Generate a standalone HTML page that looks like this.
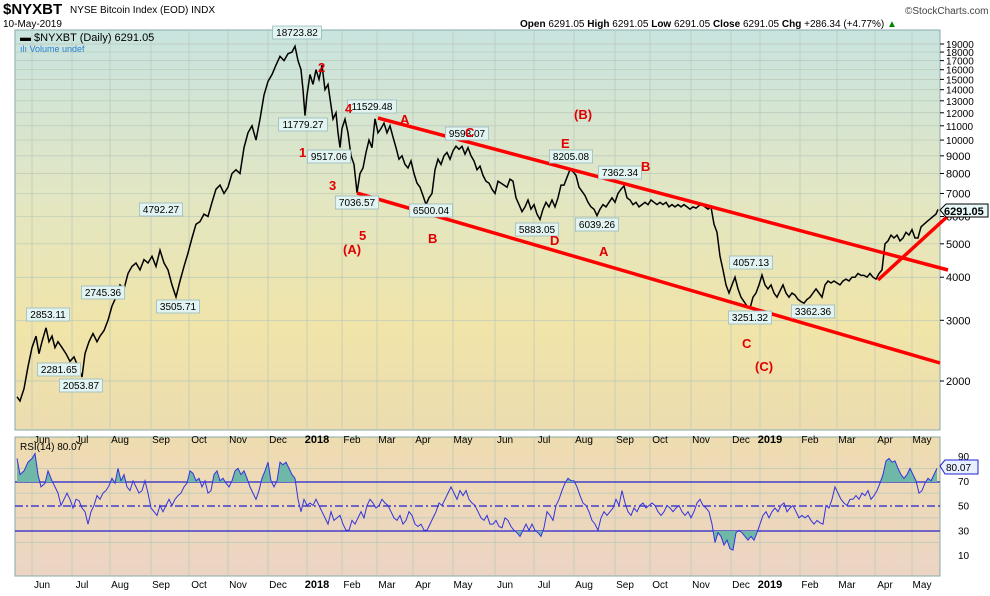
<!DOCTYPE html>
<html><head><meta charset="utf-8"><style>
body{margin:0;background:#fff;font-family:"Liberation Sans",sans-serif}
svg text{font-family:"Liberation Sans",sans-serif}
</style></head><body>
<svg id="s" width="990" height="591" xmlns="http://www.w3.org/2000/svg">
<defs>
<linearGradient id="g1" x1="0" y1="0" x2="0" y2="1">
<stop offset="0" stop-color="#c8e4e0"/><stop offset="0.45" stop-color="#e4e6c0"/><stop offset="0.75" stop-color="#f0e4a8"/><stop offset="1" stop-color="#ecdcb0"/></linearGradient>
<linearGradient id="g2" x1="0" y1="0" x2="0" y2="1">
<stop offset="0" stop-color="#eedcb0"/><stop offset="1" stop-color="#ecd4c4"/></linearGradient>
<clipPath id="ca"><rect x="15" y="430" width="925" height="52"/></clipPath>
<clipPath id="cb"><rect x="15" y="531" width="925" height="50"/></clipPath>
</defs>
<text x="3" y="14" font-size="15" font-weight="bold">$NYXBT</text>
<text x="70" y="13" font-size="10">NYSE Bitcoin Index (EOD)  INDX</text>
<text x="905" y="14" font-size="10" fill="#444">©StockCharts.com</text>
<text x="3" y="27" font-size="10">10-May-2019</text>
<text x="520" y="27" font-size="10"><tspan font-weight="bold">Open</tspan> 6291.05 <tspan font-weight="bold">High</tspan> 6291.05 <tspan font-weight="bold">Low</tspan> 6291.05 <tspan font-weight="bold">Close</tspan> 6291.05 <tspan font-weight="bold">Chg</tspan> +286.34 (+4.77%) <tspan fill="#080">▲</tspan></text>
<rect x="15" y="30" width="925" height="400" fill="url(#g1)" stroke="#8aa" stroke-width="1"/>
<rect x="15" y="437" width="925" height="139" fill="url(#g2)" stroke="#8aa" stroke-width="1"/>
<g id="grid" stroke="#b8c8b8" stroke-width="0.7"></g>
<g id="ax" font-size="10" fill="#000"></g>
<text x="20" y="41" font-size="11" font-family="Liberation Mono">▬ $NYXBT (Daily) 6291.05</text>
<text x="20" y="52" font-size="9" fill="#2a7fd4">ılı Volume undef</text>
<text x="20" y="450" font-size="10">RSI(14) 80.07</text>
<line x1="15" y1="482" x2="940" y2="482" stroke="#2222cc" stroke-width="1.2"/>
<line x1="15" y1="531" x2="940" y2="531" stroke="#2222cc" stroke-width="1.2"/>
<line x1="15" y1="506" x2="940" y2="506" stroke="#2222cc" stroke-width="1.2" stroke-dasharray="8,3,2,3"/>
<g id="rsi"></g>
<path id="price" fill="none" stroke="#000" stroke-width="1.5"/>
<g stroke="#f00" stroke-width="3.5">
<line x1="378" y1="118" x2="948" y2="270"/>
<line x1="357" y1="193" x2="940" y2="363"/>
<line x1="878" y1="280" x2="949" y2="215"/>
</g>
<g id="lbl" font-size="10"></g>
<g fill="#e00000" font-size="13" font-weight="bold">
<text x="318" y="72">2</text><text x="299" y="157">1</text><text x="329" y="190">3</text><text x="345" y="113">4</text><text x="359" y="240">5</text><text x="343" y="254">(A)</text>
<text x="400" y="124">A</text><text x="428" y="243">B</text><text x="465" y="137">C</text><text x="550" y="245">D</text><text x="561" y="148">E</text><text x="574" y="119">(B)</text><text x="641" y="171">B</text><text x="599" y="256">A</text><text x="742" y="348">C</text><text x="755" y="371">(C)</text>
</g>
<g>
<path d="M940 210 l6 -6 h42 v13 h-42 z" fill="#e8f8f8" stroke="#000"/>
<text x="944" y="215" font-size="11" font-weight="bold">6291.05</text>
<path d="M940 466 l5 -6 h33 v14 h-33 z" fill="#e8f0ff" stroke="#22c"/>
<text x="946" y="471" font-size="10">80.07</text>
</g>
</svg>
<script>
const NS="http://www.w3.org/2000/svg";
function el(t,a,p,txt){const e=document.createElementNS(NS,t);for(const k in a)e.setAttribute(k,a[k]);if(txt!==undefined)e.textContent=txt;document.getElementById(p).appendChild(e);return e;}
const py=v=>381-149.7*Math.log(v/2000);
const ry=v=>456+(90-v)*1.2375;
const months=[["Jun",42],["Jul",82],["Aug",120],["Sep",161],["Oct",199],["Nov",238],["Dec",278],["2018",317],["Feb",352],["Mar",387],["Apr",423],["May",463],["Jun",505],["Jul",544],["Aug",584],["Sep",625],["Oct",660],["Nov",701],["Dec",741],["2019",770],["Feb",810],["Mar",847],["Apr",885],["May",922]];
months.forEach(([m,x])=>{const gx=x-10;
el("line",{x1:gx,y1:30,x2:gx,y2:430},"grid");el("line",{x1:gx,y1:437,x2:gx,y2:576},"grid");
const b=(m=="2018"||m=="2019")?{"font-weight":"bold","font-size":"11"}:{};
el("text",Object.assign({x:x,y:443,"text-anchor":"middle"},b),"ax",m);
el("text",Object.assign({x:x,y:588,"text-anchor":"middle"},b),"ax",m);});
[2000,3000,4000,5000,6000,7000,8000,9000,10000,11000,12000,13000,14000,15000,16000,17000,18000,19000].forEach(v=>{const y=py(v);
el("line",{x1:15,y1:y,x2:940,y2:y},"grid");el("line",{x1:940,y1:y,x2:944,y2:y,stroke:"#000"},"ax");
el("text",{x:946,y:y+4,"font-size":v>=10000?"10":"11"},"ax",v);});
[10,30,50,70,90].forEach(v=>{el("text",{x:958,y:ry(v)+4},"ax",v);});
[20,40,60,80].forEach(v=>{el("line",{x1:15,y1:ry(v),x2:940,y2:ry(v)},"grid");});
const P=[17,1800,20,1750,24,1900,28,2200,32,2500,36,2700,39,2400,42,2600,46,2853,49,2600,52,2700,55,2500,58,2600,62,2500,66,2400,70,2281,74,2350,78,2200,82,2054,85,2400,89,2600,93,2745,97,2600,100,2700,104,2800,108,3000,112,3300,116,3500,120,3800,124,3700,128,4100,132,4300,136,4400,140,4200,144,4500,148,4400,152,4600,156,4300,160,4792,164,4400,168,4200,172,3800,176,3505,180,3900,184,4300,188,4700,192,5200,196,5700,200,5800,204,6100,208,6000,212,6600,216,7200,220,7400,224,7000,228,7300,232,8000,236,8200,240,8000,244,9500,248,10500,252,11000,256,10000,260,11500,264,13500,268,14800,272,15500,276,16500,280,17500,284,17000,288,17800,292,18000,295,18723,298,17000,301,16000,303,14000,305,11779,307,13500,310,15500,313,14500,316,16000,319,15000,322,16500,325,14000,328,14500,330,13200,333,11500,336,12000,338,10500,340,9517,342,10800,345,11500,348,10500,351,9000,354,8500,357,7036,360,8000,363,8300,366,9200,369,10000,372,9500,375,11529,378,10500,381,10800,384,11200,387,10500,390,11000,393,10200,396,9500,399,8800,402,9000,405,8500,408,8300,411,8700,414,8000,417,7500,420,7300,423,6900,426,6500,429,6800,432,7000,435,8200,438,8800,441,8500,444,9000,447,9200,450,8800,453,9300,456,9600,459,9400,462,9593,465,9100,468,9500,471,9000,474,8700,477,8200,480,8400,483,7900,486,7600,489,7500,492,7200,495,7000,498,7600,501,7500,504,7400,507,7300,510,7700,513,7600,516,6800,519,6500,522,6200,525,6400,528,6700,531,6300,534,6500,537,6100,540,5883,543,6300,546,6600,549,6400,552,6700,555,6400,558,6800,561,7400,564,7400,567,7800,570,8205,573,8100,576,7900,579,7300,582,7100,585,6900,588,6600,591,6400,594,6300,597,6039,600,6300,603,6500,606,6400,609,6600,612,6800,615,6600,618,7000,621,7200,624,7362,627,6800,630,6700,633,6500,636,6600,639,6400,642,6500,645,6600,648,6500,651,6700,654,6600,657,6500,660,6600,663,6500,666,6600,669,6400,672,6500,675,6400,678,6500,681,6400,684,6500,687,6400,690,6300,693,6400,696,6350,699,6450,702,6500,705,6400,708,6300,711,6400,714,5700,717,5400,720,4600,723,4200,726,3800,729,3600,732,3800,735,4000,738,3700,741,3500,744,3400,747,3300,750,3251,753,3500,756,3600,759,3800,762,4057,765,3800,768,3700,771,3800,774,3600,777,3500,780,3650,783,3800,786,3600,789,3500,792,3600,795,3550,798,3450,801,3400,804,3362,807,3450,810,3500,813,3600,816,3700,819,3600,822,3500,825,3800,828,3900,831,3850,834,3900,837,3850,840,3800,843,3900,846,3950,849,3900,852,4000,855,4000,858,4100,861,4050,864,4050,867,4000,870,4100,873,4000,876,3950,879,4100,882,4200,885,5000,888,5100,891,5300,894,5200,897,5300,900,5100,903,5200,906,5400,909,5300,912,5500,915,5200,918,5200,921,5600,924,5700,927,5800,930,5900,933,6000,936,6100,938,6291];
let d="";for(let i=0;i<P.length;i+=2)d+=(i?"L":"M")+P[i]+" "+py(P[i+1]).toFixed(1);
document.getElementById("price").setAttribute("d",d);
const R=[17,88,20,75,24,78,28,85,32,88,35,92,38,75,41,65,45,68,48,78,52,70,55,65,58,60,61,50,64,55,67,60,70,55,73,48,76,55,79,54,82,48,85,45,88,35,91,45,94,50,97,58,100,55,103,60,106,62,109,66,112,72,115,68,118,80,121,70,124,75,127,65,130,62,133,70,136,65,139,60,142,62,145,70,148,60,151,48,154,45,157,42,160,50,163,45,166,50,169,55,172,50,175,55,178,58,181,60,184,65,187,68,190,78,193,76,196,70,199,72,202,65,205,70,208,60,211,62,214,75,217,78,220,70,223,72,226,68,229,65,232,70,235,78,238,80,241,75,244,78,247,72,250,65,253,60,256,55,259,62,262,72,265,78,268,85,271,70,274,65,277,70,280,85,283,83,286,85,289,80,292,75,295,72,298,55,301,45,304,55,307,50,310,52,313,50,316,55,319,50,322,45,325,40,328,35,331,45,334,38,337,40,340,42,343,35,346,30,349,30,352,38,355,35,358,40,361,45,364,40,367,50,370,55,373,52,376,48,379,50,382,55,385,52,388,50,391,45,394,40,397,38,400,42,403,35,406,38,409,45,412,42,415,35,418,33,421,35,424,30,427,30,430,35,433,40,436,45,439,52,442,50,445,55,448,60,451,65,454,60,457,55,460,62,463,58,466,62,469,55,472,52,475,50,478,45,481,40,484,38,487,42,490,35,493,35,496,38,499,33,502,32,505,40,508,38,511,33,514,30,517,28,520,25,523,30,526,35,529,30,532,35,535,30,538,28,541,25,544,32,547,45,550,42,553,38,556,50,559,55,562,62,565,68,568,72,571,70,574,70,577,65,580,58,583,52,586,50,589,45,592,38,595,35,598,30,601,40,604,45,607,42,610,45,613,48,616,55,619,50,622,62,625,52,628,45,631,42,634,48,637,45,640,50,643,52,646,48,649,50,652,52,655,50,658,45,661,42,664,45,667,50,670,48,673,45,676,48,679,50,682,45,685,42,688,45,691,40,694,45,697,52,700,55,703,50,706,48,709,45,712,35,715,20,718,28,721,25,724,18,727,22,730,15,733,14,736,28,739,30,742,28,745,25,748,22,751,25,754,22,757,28,760,35,763,42,766,45,769,40,772,45,775,48,778,45,781,50,784,52,787,45,790,48,793,50,796,45,799,40,802,42,805,40,808,42,811,38,814,35,817,38,820,36,823,35,826,50,829,48,832,55,835,65,838,60,841,55,844,52,847,50,850,55,853,55,856,58,859,55,862,60,865,58,868,62,871,55,874,58,877,62,880,68,883,75,886,86,889,88,892,85,895,86,898,80,901,75,904,72,907,75,910,80,913,75,916,70,919,60,922,62,925,68,928,72,931,70,934,75,937,80];
let rd="";for(let i=0;i<R.length;i+=2)rd+=(i?"L":"M")+R[i]+" "+ry(R[i+1]).toFixed(1);
el("path",{d:rd+"L937 482L17 482Z",fill:"#6fb8a8","clip-path":"url(#ca)"},"rsi");
el("path",{d:rd+"L937 531L17 531Z",fill:"#6fb8a8","clip-path":"url(#cb)"},"rsi");
el("path",{d:rd,fill:"none",stroke:"#3333dd","stroke-width":"1"},"rsi");
const L=[["18723.82",297,36,1],["11779.27",303,128,0],["9517.06",329,160,0],["7036.57",357,206,0],["11529.48",372,110,1],["6500.04",431,214,0],["9593.07",467,137,1],["8205.08",571,160,1],["7362.34",620,176,1],["5883.05",537,233,0],["6039.26",597,228,0],["4057.13",751,266,1],["3251.32",750,321,0],["3362.36",813,315,0],["4792.27",161,213,1],["3505.71",178,310,0],["2853.11",48,318,1],["2281.65",59,373,0],["2053.87",81,389,0],["2745.36",103,296,1]];
L.forEach(([t,x,y])=>{const w=t.length*5.6+4;el("rect",{x:x-w/2,y:y-10,width:w,height:13,fill:"#e2f4f2",stroke:"#9bb","stroke-width":"0.8"},"lbl");el("text",{x:x,y:y,"text-anchor":"middle"},"lbl",t);});
</script>
</body></html>
